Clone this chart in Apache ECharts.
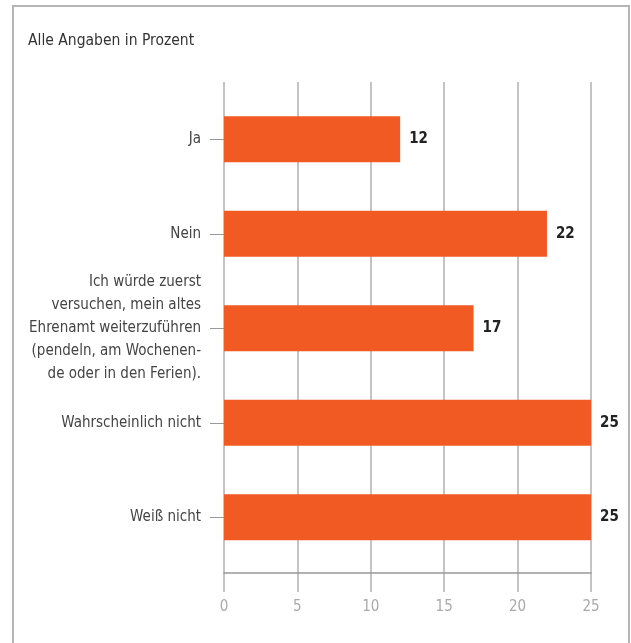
<!DOCTYPE html>
<html>
<head>
<meta charset="utf-8">
<script src="https://cdn.jsdelivr.net/npm/echarts@6/dist/echarts.min.js"></script>
<style>
html,body{margin:0;padding:0;background:#fff;}
#c{width:631px;height:643px;}
</style>
</head>
<body>
<div id="c"></div>
<script>
var categories = [
  'Ja',
  'Nein',
  'Ich würde zuerst\nversuchen, mein altes\nEhrenamt weiterzuführen\n(pendeln, am Wochenen-\nde oder in den Ferien).',
  'Wahrscheinlich nicht',
  'Weiß nicht'
];
var values = [12, 22, 17, 25, 25];
var xTicks = [0, 5, 10, 15, 20, 25];
var titleText = 'Alle Angaben in Prozent';

var FONT = '"Liberation Sans Narrow", "DejaVu Sans Condensed", sans-serif';
var XMIN = xTicks[0], XMAX = xTicks[xTicks.length - 1], XSTEP = xTicks[1] - xTicks[0];
var chart = echarts.init(document.getElementById('c'));
chart.setOption({
  animation: false,
  backgroundColor: '#fff',
  title: {
    text: titleText,
    left: 23, top: 28,
    textStyle: {fontFamily: FONT, fontSize: 15.5, fontWeight: 'normal', color: '#333'}
  },
  graphic: [{
    type: 'polyline',
    shape: {points: [[13, 643], [13, 6], [629, 6], [629, 643]]},
    style: {stroke: '#b5b5b5', lineWidth: 2, fill: null},
    silent: true
  }],
  grid: [
    {left: 224, width: 367, top: 82, height: 510},
    {left: 224, width: 367, top: 92, height: 472.5},
    {left: 224, width: 367, top: 82, height: 491}
  ],
  xAxis: [{
    gridIndex: 0, type: 'value', min: XMIN, max: XMAX, interval: XSTEP,
    axisLine: {show: false}, axisTick: {show: false}, axisLabel: {show: false},
    splitLine: {show: true, lineStyle: {color: '#b0b0b0', width: 1.5}}
  }, {
    gridIndex: 1, type: 'value', min: XMIN, max: XMAX,
    show: false
  }, {
    gridIndex: 2, type: 'value', min: XMIN, max: XMAX, interval: XSTEP,
    position: 'bottom',
    axisLine: {show: true, onZero: false, lineStyle: {color: '#999', width: 1.5}},
    axisTick: {show: false},
    splitLine: {show: false},
    axisLabel: {show: true, margin: 27, fontFamily: FONT, fontSize: 15, color: '#aaa'}
  }],
  yAxis: [{
    gridIndex: 0, type: 'value', min: 0, max: 1, show: false
  }, {
    gridIndex: 1, type: 'category', data: categories, inverse: true,
    axisLine: {show: false},
    axisTick: {show: true, alignWithLabel: true, length: 14, lineStyle: {color: '#999', width: 1}},
    axisLabel: {margin: 23, fontFamily: FONT, fontSize: 15, color: '#444', lineHeight: 23, align: 'right'}
  }, {
    gridIndex: 2, type: 'value', min: 0, max: 1, show: false
  }],
  series: [{
    type: 'bar',
    xAxisIndex: 1, yAxisIndex: 1,
    data: values,
    barWidth: 46,
    itemStyle: {color: '#F15A22'},
    label: {
      show: true, position: 'right', distance: 9,
      fontFamily: FONT, fontSize: 15, fontWeight: 'bold', color: '#222'
    }
  }, {
    type: 'line', xAxisIndex: 0, yAxisIndex: 0, data: [], silent: true
  }, {
    type: 'line', xAxisIndex: 2, yAxisIndex: 2, data: [], silent: true
  }]
});
</script>
</body>
</html>
